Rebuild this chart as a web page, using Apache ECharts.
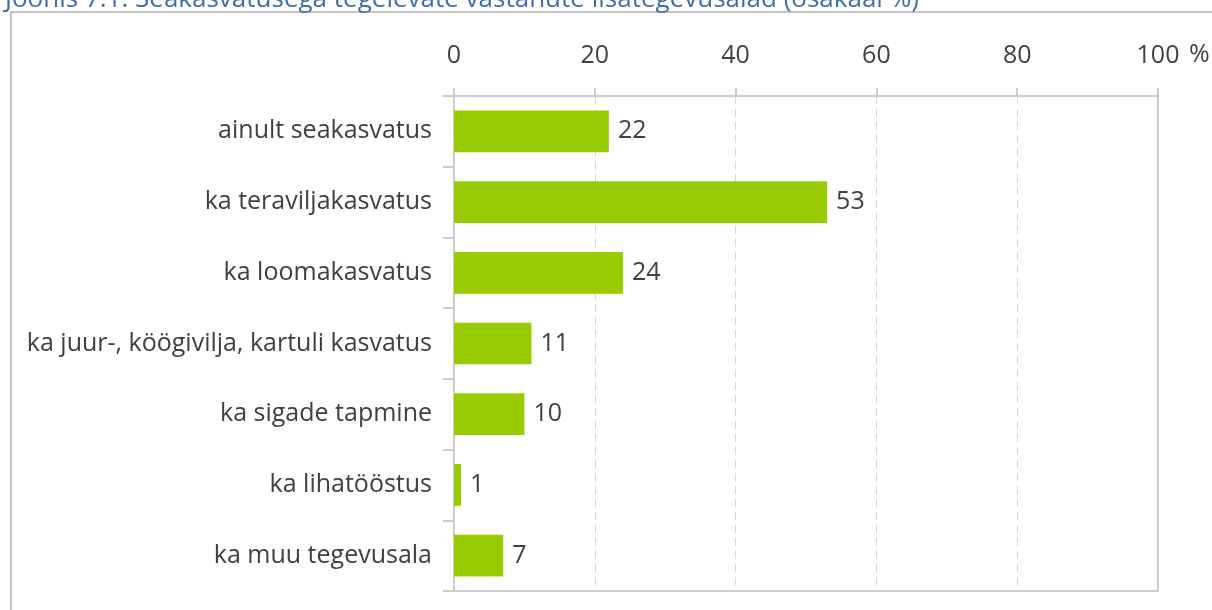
<!DOCTYPE html>
<html>
<head>
<meta charset="utf-8">
<script src="https://cdn.jsdelivr.net/npm/echarts@6/dist/echarts.min.js"></script>
<style>
  html, body { margin: 0; padding: 0; background: #fff; }
  #chart { width: 1212px; height: 610px; }
</style>
</head>
<body>
<div id="chart"></div>
<script>
const categories = [
  'ainult seakasvatus',
  'ka teraviljakasvatus',
  'ka loomakasvatus',
  'ka juur-, köögivilja, kartuli kasvatus',
  'ka sigade tapmine',
  'ka lihatööstus',
  'ka muu tegevusala'
]
const shares = [22, 53, 24, 11, 10, 1, 7]
const titleText = 'Joonis 7.1. Seakasvatusega tegelevate vastanute lisategevusalad (osakaal %)'

const font = '"Open Sans", "Noto Sans", sans-serif'
const boxLine = { color: '#cccccc', width: 2 }
const chart = echarts.init(document.getElementById('chart'))

chart.setOption({
  animation: false,
  textStyle: { fontFamily: font },
  graphic: [
    {
      type: 'rect',
      shape: { x: 11, y: 12, width: 1230, height: 640 },
      style: { fill: 'none', stroke: '#c4c4c4', lineWidth: 2 },
      silent: true
    },
    {
      type: 'text',
      left: 5,
      top: -13,
      style: { text: titleText, fill: '#3f6faa', font: '26px ' + font }
    },
    {
      type: 'text',
      left: 1189,
      top: 42,
      style: { text: '%', fill: '#404040', font: '25px ' + font }
    }
  ],
  grid: { left: 454, right: 54, top: 96, bottom: 19, containLabel: false },
  xAxis: [
    {
      type: 'value',
      position: 'top',
      min: 0,
      max: 100,
      interval: 20,
      axisLine: { show: true, onZero: false, lineStyle: boxLine },
      axisTick: { show: true, length: 8, lineStyle: boxLine },
      axisLabel: { margin: 28, fontSize: 25, color: '#404040', fontFamily: font },
      splitLine: { show: true, lineStyle: { color: '#d6d6d6', type: [8, 5], width: 1 } }
    },
    {
      type: 'value',
      position: 'bottom',
      min: 0,
      max: 100,
      interval: 20,
      axisLine: { show: true, onZero: false, lineStyle: boxLine },
      axisTick: { show: false },
      axisLabel: { show: false },
      splitLine: { show: false }
    }
  ],
  yAxis: [
    {
      type: 'category',
      data: categories,
      inverse: true,
      axisLine: { show: true, onZero: false, lineStyle: boxLine },
      axisTick: { show: true, length: 11, lineStyle: boxLine },
      axisLabel: { margin: 22, fontSize: 25, color: '#404040', fontFamily: font },
      splitLine: { show: false }
    },
    {
      type: 'category',
      data: categories,
      inverse: true,
      position: 'right',
      axisLine: { show: true, onZero: false, lineStyle: boxLine },
      axisTick: { show: false },
      axisLabel: { show: false },
      splitLine: { show: false }
    }
  ],
  series: [{
    type: 'bar',
    data: shares,
    barWidth: '59%',
    itemStyle: { color: '#99cc00' },
    label: {
      show: true,
      position: 'right',
      distance: 9,
      fontSize: 25,
      color: '#404040',
      fontFamily: font
    }
  }]
})
</script>
</body>
</html>
